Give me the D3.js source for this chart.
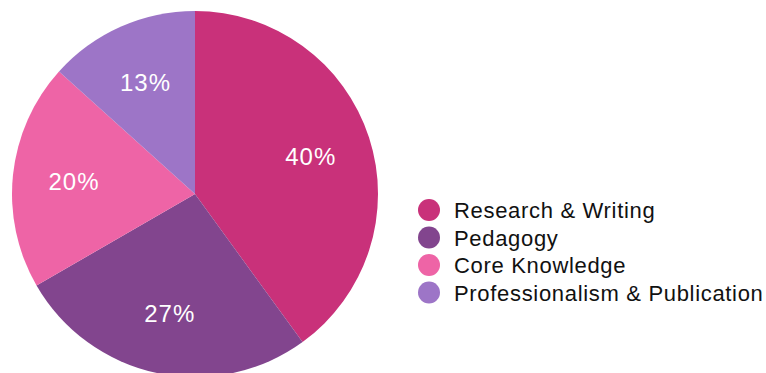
<!DOCTYPE html>
<html lang="en">
<head>
  <meta charset="UTF-8">
  <title>Pie Chart</title>
  <script src="https://d3js.org/d3.v7.min.js"></script>
  <style>
    body { margin: 0; background: #fff; }
    svg { display: block; font-family: Helvetica, "Liberation Sans", Arial, sans-serif; }
  </style>
</head>
<body>
  <script>
    const categories = ["Research & Writing", "Pedagogy", "Core Knowledge", "Professionalism & Publication"];
    const values = [6, 4, 3, 2];
    const colors = ["#c9317a", "#82458e", "#ee64a6", "#9d75c7"];

    const width = 766, height = 373;
    const cx = 195, cy = 194, radius = 183;

    const svg = d3.select("body").append("svg")
      .attr("width", width)
      .attr("height", height);

    const data = categories.map((c, i) => ({name: c, value: values[i], color: colors[i]}));
    const total = d3.sum(values);

    const pie = d3.pie().value(d => d.value).sort(null);
    const arc = d3.arc().innerRadius(0).outerRadius(radius);
    const labelArc = d3.arc().innerRadius(radius * 0.665).outerRadius(radius * 0.665);

    const g = svg.append("g").attr("transform", "translate(" + cx + "," + cy + ")");

    const arcs = pie(data);

    g.selectAll("path")
      .data(arcs)
      .enter().append("path")
        .attr("d", arc)
        .attr("fill", d => d.data.color);

    g.selectAll("text")
      .data(arcs)
      .enter().append("text")
        .attr("transform", d => "translate(" + labelArc.centroid(d) + ")")
        .attr("text-anchor", "middle")
        .attr("dy", "0.36em")
        .attr("fill", "#fff")
        .style("font-size", "24px")
        .style("letter-spacing", "1px")
        .text(d => Math.round(d.data.value / total * 100) + "%");

    const legend = svg.append("g").attr("transform", "translate(429,210)");
    const y = d3.scalePoint().domain(categories).range([0, 82.5]);

    const item = legend.selectAll("g")
      .data(data)
      .enter().append("g")
        .attr("transform", d => "translate(0," + y(d.name) + ")");

    item.append("circle")
      .attr("r", 11)
      .attr("fill", d => d.color);

    item.append("text")
      .attr("x", 25)
      .attr("dy", "0.37em")
      .attr("fill", "#111")
      .style("font-size", "22px")
      .style("letter-spacing", "0.68px")
      .text(d => d.name);
  </script>
</body>
</html>
